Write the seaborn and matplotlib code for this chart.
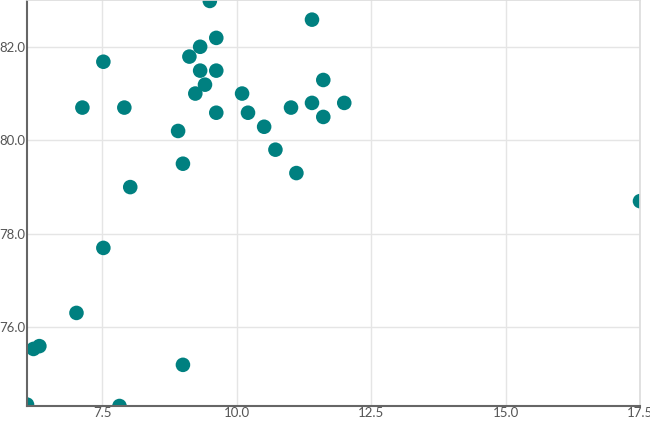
import matplotlib
matplotlib.use("Agg")
import matplotlib.pyplot as plt
import seaborn as sns
import pandas as pd

x_vals = [6.1, 6.22, 6.33, 7.02, 7.13, 7.52, 7.52, 7.82, 7.91, 8.02, 8.91, 9.0, 9.0,
          9.12, 9.23, 9.32, 9.32, 9.41, 9.5, 9.62, 9.62, 9.62, 10.1, 10.21, 10.51,
          10.72, 11.01, 11.11, 11.4, 11.4, 11.61, 11.61, 12.0, 17.5]
y_vals = [74.35, 75.54, 75.6, 76.31, 80.7, 81.68, 77.7, 74.32, 80.7, 79.0, 80.2, 79.5, 75.2,
          81.79, 81.0, 82.0, 81.49, 81.19, 82.98, 82.19, 81.49, 80.59, 81.0, 80.59, 80.29,
          79.8, 80.7, 79.3, 82.58, 80.8, 81.29, 80.5, 80.8, 78.7]
x_ticks = [7.5, 10.0, 12.5, 15.0, 17.5]
y_ticks = [76.0, 78.0, 80.0, 82.0]

df = pd.DataFrame({"x": x_vals, "y": y_vals})

sns.set_theme(style="whitegrid")
plt.rcParams["font.family"] = ["Lato", "DejaVu Sans"]
fig = plt.figure(figsize=(6.5, 4.24), dpi=100)
ax = fig.add_axes([27 / 650, 18 / 424, 613 / 650, 406 / 424])
sns.scatterplot(data=df, x="x", y="y", ax=ax, color="#008080", s=110,
                edgecolor="none", clip_on=True)
ax.set_xlim(6.1, 17.5)
ax.set_ylim(74.32, 83.0)
ax.set_xticks(x_ticks)
ax.set_xticklabels([f"{v:.1f}" for v in x_ticks])
ax.set_yticks(y_ticks)
ax.set_yticklabels([f"{v:.1f}" for v in y_ticks])
ax.set_xlabel("")
ax.set_ylabel("")
ax.grid(color="#e5e5e5", linewidth=1)
ax.set_facecolor("white")
for side in ["left", "bottom"]:
    ax.spines[side].set_color("#666666")
    ax.spines[side].set_linewidth(1.5)
for side in ["top", "right"]:
    ax.spines[side].set_color("#dddddd")
ax.tick_params(labelsize=9.5, colors="#555555", pad=1, length=0)
fig.savefig("out.png", dpi=100)
